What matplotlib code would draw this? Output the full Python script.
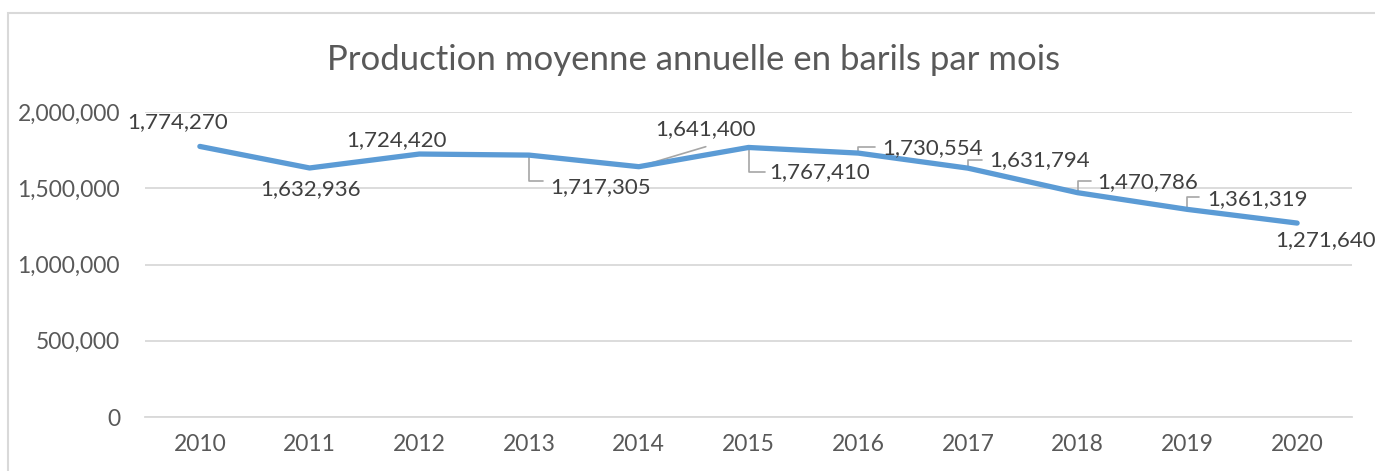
import numpy as np
import matplotlib.pyplot as plt
from matplotlib.patches import Rectangle
from matplotlib.ticker import FuncFormatter

plt.rcParams['font.family'] = ['Lato', 'DejaVu Sans']

years = ['2010', '2011', '2012', '2013', '2014', '2015', '2016', '2017', '2018', '2019', '2020']
production = [1774270, 1632936, 1724420, 1717305, 1641400, 1767410, 1730554, 1631794, 1470786, 1361319, 1271640]
y_ticks = [0, 500000, 1000000, 1500000, 2000000]

# label offsets (pixels) from each point, and optional leader line
label_offsets = [(-22, 24), (1, -21), (-23, 14), (71, -32), (67, 38), (71, -25), (74, 5), (72, 8), (70, 11), (70, 10), (28, -17)]
leaders = [None, None, None, (14, -26), (67, 20), (16, -25), (17, 6), (14, 8), (13, 12), (12, 12), None]

GRAY = '#595959'
LABEL = '#404040'
GRID = '#d9d9d9'
BLUE = '#5b9bd5'

fig = plt.figure(figsize=(13.75, 4.71), dpi=100)
ax = fig.add_axes([145 / 1375, 1 - 417 / 471, 1207 / 1375, 305 / 471])

x = np.arange(len(years))
ax.plot(x, production, color=BLUE, lw=3.8, solid_capstyle='round', zorder=3)

for i, v in enumerate(production):
    dx, dy = label_offsets[i]
    ax.annotate(f'{v:,}', xy=(x[i], v), xytext=(dx, dy), textcoords='offset pixels',
                ha='center', va='center', fontsize=16, color=LABEL, zorder=4)
    if leaders[i] is not None:
        lx, ly = leaders[i]
        if i == 4:
            cs = 'arc3'
        else:
            cs = 'angle,angleA=0,angleB=90,rad=0'
        ax.annotate('', xy=(x[i], v), xytext=(lx, ly), textcoords='offset pixels',
                    arrowprops=dict(arrowstyle='-', color='#a6a6a6', lw=1.2,
                                    connectionstyle=cs, shrinkA=0, shrinkB=0), zorder=2)

ax.set_xlim(-0.5, len(years) - 0.5)
ax.set_ylim(0, 2000000)
ax.set_xticks(x)
ax.set_xticklabels(years)
ax.set_yticks(y_ticks)
ax.yaxis.set_major_formatter(FuncFormatter(lambda v, p: f'{int(v):,}'))
ax.tick_params(length=0, labelsize=16.5, labelcolor=GRAY)
ax.tick_params(axis='y', pad=18)
ax.tick_params(axis='x', pad=12)
ax.grid(axis='y', color=GRID, lw=1.3)
ax.set_axisbelow(True)
for s in ['top', 'right', 'left']:
    ax.spines[s].set_visible(False)
ax.spines['bottom'].set_color(GRID)
ax.spines['bottom'].set_linewidth(1.3)

fig.text(694 / 1375, 1 - 60 / 471, 'Production moyenne annuelle en barils par mois',
         ha='center', va='center', fontsize=25, color=GRAY)

fig.patches.append(Rectangle((8 / 1375, -0.1), 1.2, 1 - 13 / 471 + 0.1, transform=fig.transFigure,
                             fill=False, edgecolor=GRID, lw=1.5))

fig.savefig('out.png', dpi=100)
